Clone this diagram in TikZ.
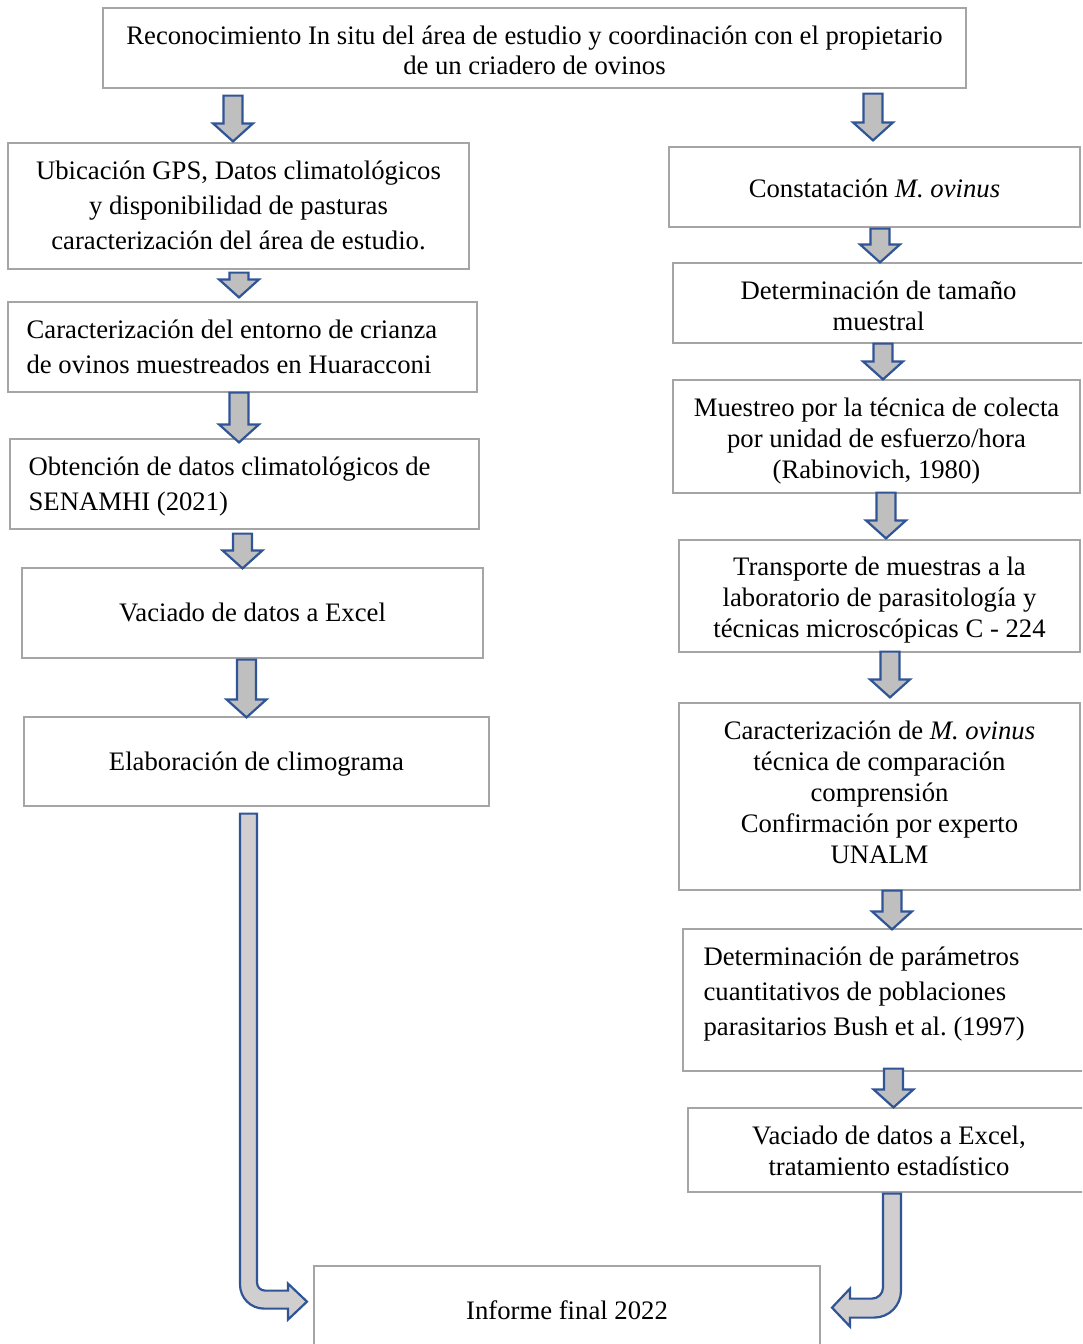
\documentclass[tikz,border=0pt]{standalone}
\usepackage{fontspec}
\setmainfont{Liberation Serif}
\usepackage{tikz}
\usetikzlibrary{calc}
\frenchspacing
\definecolor{boxline}{RGB}{165,165,165}
\definecolor{arrowline}{RGB}{47,85,151}
\definecolor{arrowfill}{RGB}{191,191,191}
\definecolor{bentfill}{RGB}{208,206,206}
\newcommand\drawBlockArrow[5]{%
\coordinate (s) at ($(#2.south -| #1,0)+(0,#4)$);
\coordinate (t) at ($(#3.north -| #1,0)+(0,#5)$);
\filldraw[blockarrow] ($(s)+(-9.5,0)$) -- ($(t)+(-9.5,-18)$) -- ($(t)+(-20,-18)$) -- (t) -- ($(t)+(20,-18)$) -- ($(t)+(9.5,-18)$) -- ($(s)+(9.5,0)$) -- cycle;
}

\begin{document}
\begin{tikzpicture}[x=1pt, y=-1pt,
			stepbox/.style={draw=boxline, line width=1.2pt, inner sep=0pt},
			steptext/.style={align=flush center, anchor=north, inner sep=0pt, font=\fontsize{26.7}{31}\selectfont},
			wide/.style={font=\fontsize{26.7}{35}\selectfont},
			lefttext/.style={align=flush left, anchor=north west},
			blockarrow/.style={draw=arrowline, fill=arrowfill, line width=2.2pt, line join=miter},
			bentarrow/.style={blockarrow, fill=bentfill}]

			\useasboundingbox (0,0) rectangle (1082,1344);
			\clip (0,0) rectangle (1082,1344);

			% drawing top box
			\node[stepbox, minimum width=863, minimum height=80] (top) at (534.5,48) {};
			\node[steptext, font=\fontsize{26.7}{30}\selectfont] (toptext) at ($(top.north)+(0,18)$) {Reconocimiento In situ del área de estudio y coordinación con el propietario\\de un criadero de ovinos};

			% drawing left column
			\node[stepbox, minimum width=461, minimum height=126] (L1) at (238.5,206) {};
			\node[steptext, wide] (L1text) at ($(L1.north)+(0,18)$) {Ubicación GPS, Datos climatológicos\\y disponibilidad de pasturas\\caracterización del área de estudio.};
			\node[stepbox, minimum width=469, minimum height=90] (L2) at (242.5,347) {};
			\node[steptext, wide, lefttext] (L2text) at ($(L2.north west)+(19,18)$) {Caracterización del entorno de crianza\\de ovinos muestreados en Huaracconi};
			\node[stepbox, minimum width=469, minimum height=90] (L3) at (244.5,484) {};
			\node[steptext, wide, lefttext] (L3text) at ($(L3.north west)+(19,18)$) {Obtención de datos climatológicos de\\SENAMHI (2021)};
			\node[stepbox, minimum width=461, minimum height=90] (L4) at (252.5,613) {};
			\node[steptext] (L4text) at ($(L4.north)+(0,35.3)$) {Vaciado de datos a Excel};
			\node[stepbox, minimum width=465, minimum height=89] (L5) at (256.5,761.5) {};
			\node[steptext] (L5text) at ($(L5.north)+(0,35)$) {Elaboración de climograma};

			% drawing right column
			\node[stepbox, minimum width=411, minimum height=80] (R1) at (874.5,187) {};
			\node[steptext] (R1text) at ($(R1.north)+(0,32.3)$) {Constatación \textit{M. ovinus}};
			\node[stepbox, minimum width=411, minimum height=80] (R2) at (878.5,303) {};
			\node[steptext] (R2text) at ($(R2.north)+(0,18)$) {Determinación de tamaño\\muestral};
			\node[stepbox, minimum width=407, minimum height=113] (R3) at (876.5,436.5) {};
			\node[steptext] (R3text) at ($(R3.north)+(0,18)$) {Muestreo por la técnica de colecta\\por unidad de esfuerzo/hora\\(Rabinovich, 1980)};
			\node[stepbox, minimum width=401, minimum height=112] (R4) at (879.5,596) {};
			\node[steptext] (R4text) at ($(R4.north)+(0,17.5)$) {Transporte de muestras a la\\laboratorio de parasitología y\\técnicas microscópicas C - 224};
			\node[stepbox, minimum width=401, minimum height=187] (R5) at (879.5,796.5) {};
			\node[steptext] (R5text) at ($(R5.north)+(0,18)$) {Caracterización de \textit{M. ovinus}\\técnica de comparación\\comprensión\\Confirmación por experto\\UNALM};
			\node[stepbox, minimum width=407, minimum height=142] (R6) at (886.5,1000) {};
			\node[steptext, wide, lefttext] (R6text) at ($(R6.north west)+(21,18)$) {Determinación de parámetros\\cuantitativos de poblaciones\\parasitarios Bush et al. (1997)};
			\node[stepbox, minimum width=402, minimum height=84] (R7) at (889,1150) {};
			\node[steptext] (R7text) at ($(R7.north)+(0,18)$) {Vaciado de datos a Excel,\\tratamiento estadístico};

			% drawing final box
			\node[stepbox, minimum width=506, minimum height=90] (final) at (567,1311) {};
			\node[steptext] (finaltext) at ($(final.north)+(0,35.3)$) {Informe final 2022};

			% drawing arrows
			\drawBlockArrow{233}{top}{L1}{7}{-1}
			\drawBlockArrow{873}{top}{R1}{5}{-6}

			\drawBlockArrow{239}{L1}{L2}{3}{-4}
			\drawBlockArrow{239}{L2}{L3}{0}{4}
			\drawBlockArrow{242.5}{L3}{L4}{4}{1}
			\drawBlockArrow{246.5}{L4}{L5}{1}{1}

			\drawBlockArrow{880}{R1}{R2}{1}{0}
			\drawBlockArrow{883}{R2}{R3}{0}{0}
			\drawBlockArrow{886}{R3}{R4}{-1}{-1}
			\drawBlockArrow{890}{R4}{R5}{-1}{-5}
			\drawBlockArrow{892}{R5}{R6}{0}{1}
			\drawBlockArrow{893.5}{R6}{R7}{-3}{0}

			% bent arrows into final box
			\coordinate (lb) at ($(L5.south -| 248.5,0)+(0,7)$);
			\filldraw[bentarrow, shift={(lb)}] (-8.5,0) -- (8.5,0) -- (8.5,469) .. controls (8.5,473.4) and (12.1,477) .. (16.5,477) -- (39.5,477) -- (39.5,470) -- (58.5,488) -- (39.5,506) -- (39.5,495) -- (15.5,495) .. controls (2.2,495) and (-8.5,484.3) .. (-8.5,471) -- cycle;

			\coordinate (rb) at ($(R7.south -| 892,0)+(0,1)$);
			\filldraw[bentarrow, shift={(rb)}] (-9,0) -- (9,0) -- (9,97) .. controls (9,112) and (-3,124) .. (-18,124) -- (-42,124) -- (-42,133) -- (-60,114) -- (-42,95) -- (-42,105) -- (-20,105) .. controls (-14,105) and (-9,100) .. (-9,94) -- cycle;

		\end{tikzpicture}
\end{document}
